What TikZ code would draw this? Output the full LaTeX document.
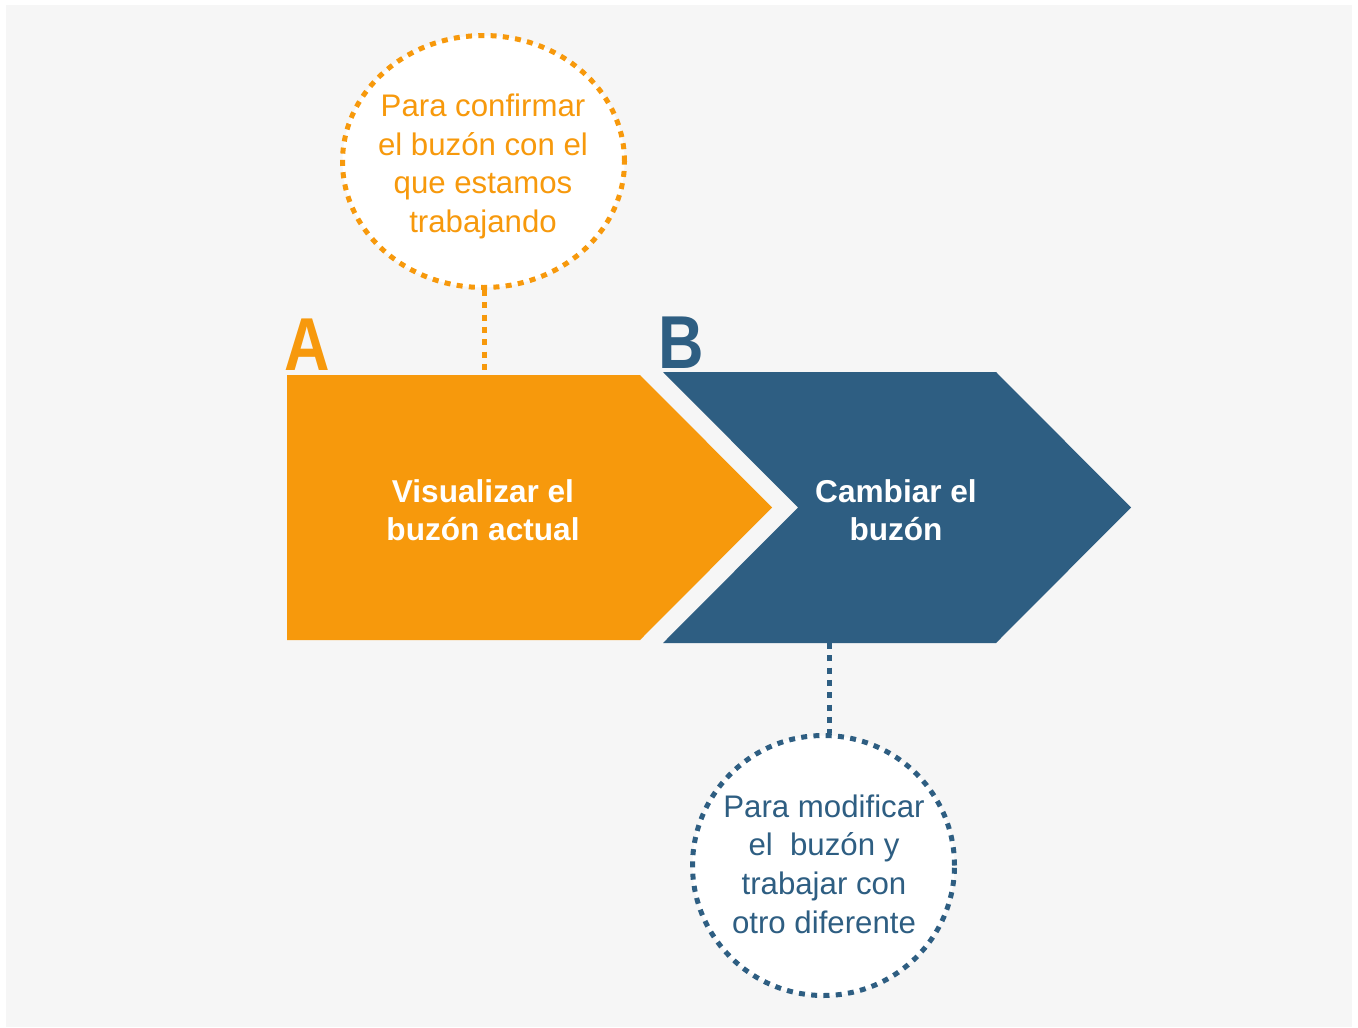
\documentclass[tikz,border=0pt]{standalone}
\usepackage{fontspec}
\setmainfont{Liberation Sans}
\usetikzlibrary{shapes.geometric}
\definecolor{orA}{RGB}{247,153,12}
\definecolor{blB}{RGB}{46,94,130}
\definecolor{bgG}{RGB}{246,246,246}
\begin{document}
\begin{tikzpicture}[x=1pt,y=-1pt,
  dotline/.style={line width=5pt, dash pattern=on 6pt off 6.3pt},
  bubble/.style={ellipse, draw, fill=white, dotline, inner sep=0pt},
  bubtxt/.style={align=center, inner sep=0pt, font=\fontsize{31.2}{38.6}\selectfont},
  arrtxt/.style={align=center, inner sep=0pt, text=white, font=\fontsize{31.6}{38}\selectfont\bfseries},
  letter/.style={inner sep=0pt, font=\fontsize{75}{75}\selectfont\bfseries}]
\useasboundingbox (0,0) rectangle (1358,1028);
\fill[white] (0,0) rectangle (1358,1028);
\fill[bgG] (6,5) rectangle (1352,1027);
% chevrons
\fill[orA] (287,375) -- (640,375) -- (772,507.5) -- (640,640) -- (287,640) -- cycle;
\fill[blB] (663,372) -- (996,372) -- (1131,507.5) -- (996,643) -- (663,643) -- (798,507.5) -- cycle;
\coordinate (atop) at (484,375);
\coordinate (bbot) at (829,643);
% bubbles
\node[bubble, draw=orA, minimum width=282pt, minimum height=252pt] (c1) at (483.5,161.5) {};
\node[bubble, draw=blB, minimum width=262pt, minimum height=260pt] (c2) at (823.5,865.5) {};
\draw[dotline, orA] (c1.south -| atop) -- (atop);
\draw[dotline, blB] (bbot) -- (bbot |- c2.north);
% texts (base anchor = baseline of last line)
\node[bubtxt, text=orA, anchor=base] (t1) at (483,232.5) {Para confirmar\\el buzón con el\\que estamos\\trabajando};
\node[bubtxt, text=blB, anchor=base] (t2) at (824,933) {Para modificar\\el~~buzón y\\trabajar con\\otro diferente};
\node[arrtxt, anchor=base] (ta) at (483,540) {Visualizar el\\buzón actual};
\node[arrtxt, anchor=base] (tb) at (896,540) {Cambiar el\\buzón};
\node[letter, text=orA, anchor=base] (la) at (307,370.5) {\scalebox{0.84}[1]{A}};
\node[letter, text=blB, anchor=base] (lb) at (681.5,368) {\scalebox{0.84}[1]{B}};
\end{tikzpicture}
\end{document}
